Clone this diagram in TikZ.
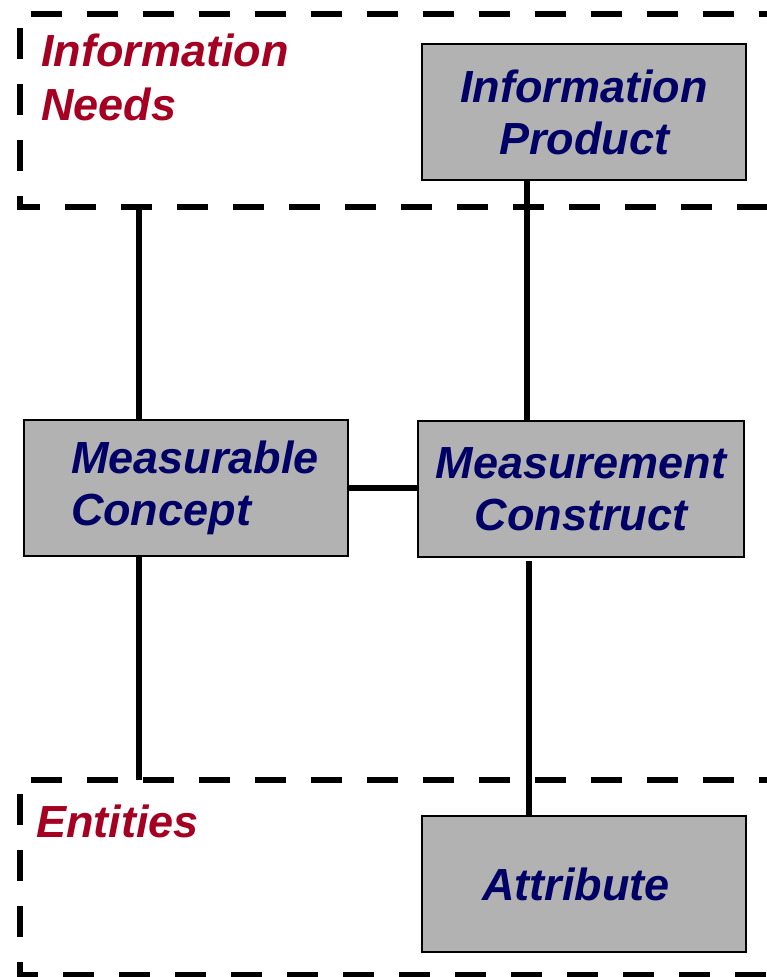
\documentclass[tikz,border=0pt]{standalone}
\usepackage{fontspec}
\setmainfont{Liberation Sans}
\usepackage{tikz}
\definecolor{boxgray}{RGB}{178,178,178}
\definecolor{boxtext}{RGB}{0,0,102}
\definecolor{regiontext}{RGB}{165,0,33}

\begin{document}
\begin{tikzpicture}[x=1pt,y=-1pt,
		box/.style={rectangle, draw=black, line width=1.8pt, fill=boxgray, inner sep=0pt, minimum width=324pt, minimum height=136pt, align=center, text=boxtext, font=\fontsize{45}{52}\selectfont\bfseries\itshape},
		region/.style={draw=black, line width=6.5pt, dash pattern=on 31pt off 25pt},
		regionlabel/.style={anchor=north west, inner sep=0pt, align=left, text=regiontext, font=\fontsize{45}{54}\selectfont\bfseries\itshape},
		link/.style={draw=black, line width=6.5pt}]
		\useasboundingbox (0,0) rectangle (767,977);
		
		\draw[region] (790,14) -| (20,207) -- (790,207);
		\draw[region] (790,780) -| (20,975) -- (790,975);
		\node[regionlabel] (needslabel) at (41,34) {Information\\Needs};
		\node[regionlabel] (entitieslabel) at (36,805) {Entities};
		\coordinate (needs) at (139,207);
		\coordinate (entities) at (139,780);
		
		\node[box] (product) at (584,112) {Information\\Product};
		\node[box, align=left, text width=230pt, inner xsep=47pt] (concept) at (186,488) {Measurable\\Concept};
		\node[box, minimum width=326pt] (construct) at (581,489) {Measurement\\Construct};
		\node[box, text width=310pt, inner xsep=7pt] (attribute) at (584,884) {Attribute\hspace*{16pt}};
		
		\draw[link] (needs) -- (needs |- concept.north);
		\draw[link] (concept.south -| entities) -- (entities);
		\draw[link] (concept.east) -- (concept.east -| construct.west);
		\draw[link] ([xshift=-57pt]product.south) -- ([xshift=-57pt]product.south |- construct.north);
		\draw[link] ([xshift=-52pt,yshift=-3pt]construct.south) -- ([xshift=-52pt]construct.south |- attribute.north);
		
		\end{tikzpicture}
\end{document}
